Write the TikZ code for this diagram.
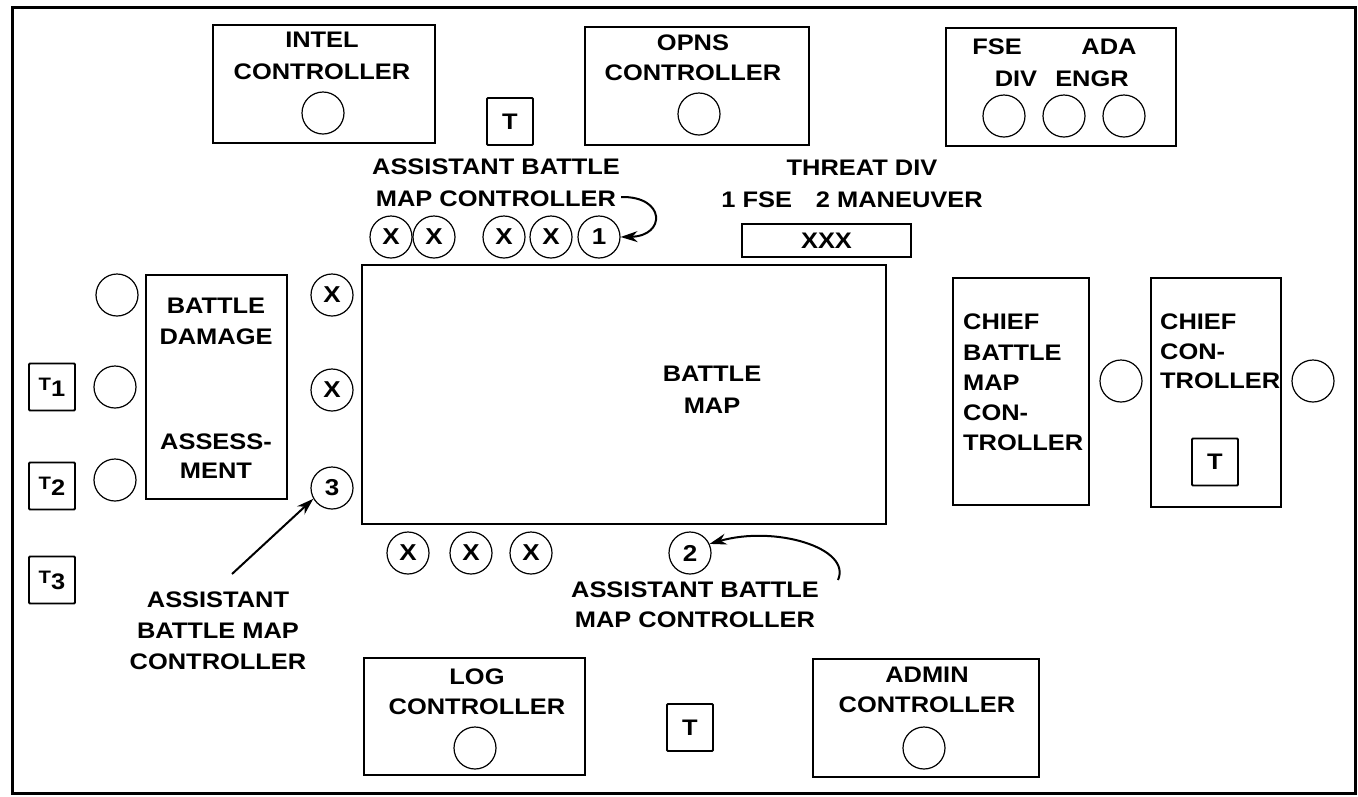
\documentclass[tikz,border=0pt]{standalone}
\usepackage{fontspec}
\newfontfamily\labfam{Liberation Sans}[FakeStretch=1.13]
\usetikzlibrary{arrows.meta}
\newcommand\labfont{\labfam\bfseries\fontsize{22.5}{31}\selectfont}
\newcommand\labfontb[1]{\labfam\bfseries\fontsize{22.5}{#1}\selectfont}
\newcommand\seatfont{\labfam\bfseries\fontsize{23}{23}\selectfont}
\begin{document}
\begin{tikzpicture}[x=1pt,y=-1pt,
  box/.style={draw, line width=2.2pt, inner sep=0, outer sep=0},
  seat/.style={circle, draw, line width=1.2pt, minimum size=42pt, inner sep=0, font=\seatfont},
  tbox/.style={draw, line width=1.8pt, minimum width=46pt, minimum height=47pt, inner sep=0, rounded corners=1pt, font=\labfont},
  lab/.style={font=\labfont, inner sep=0, align=center},
  arr/.style={line width=2pt, -{Stealth[length=17pt,width=11pt]}}]
\useasboundingbox (0,0) rectangle (1358,796);
% frame
\draw[line width=3pt] (12,7) rectangle (1355,793);
% boxes
\node[box, minimum width=222pt, minimum height=118pt] (intel) at (324,84) {};
\node[box, minimum width=224pt, minimum height=118pt] (opns) at (697,86) {};
\node[box, minimum width=230pt, minimum height=118pt] (fse) at (1061,87) {};
\node[box, minimum width=169pt, minimum height=33pt] (xxx) at (826.5,240.5) {};
\node[box, minimum width=524pt, minimum height=259pt] (map) at (624,394.5) {};
\node[box, minimum width=141pt, minimum height=224pt] (bda) at (216.5,387) {};
\node[box, minimum width=136pt, minimum height=227pt] (cbmc) at (1021,391.5) {};
\node[box, minimum width=130pt, minimum height=229pt] (cc) at (1216,392.5) {};
\node[box, minimum width=221pt, minimum height=117pt] (log) at (474.5,716.5) {};
\node[box, minimum width=226pt, minimum height=118pt] (admin) at (926,718) {};
% texts
\node[lab, font=\labfontb{32}] (intelT) at (322,56) {INTEL\\CONTROLLER};
\node[lab, font=\labfontb{30}] (opnsT) at (693,58) {OPNS\\CONTROLLER};
\node[lab] (fseT) at (997,47) {FSE};
\node[lab] (adaT) at (1109,47) {ADA};
\node[lab] (divT) at (1016,79) {DIV};
\node[lab] (engrT) at (1092,79) {ENGR};
\node[lab, font=\labfontb{32}] (abmc1) at (496,183) {ASSISTANT BATTLE\\MAP CONTROLLER};
\node[lab, font=\labfontb{32}] (threat) at (852,184) {\hspace*{20pt}THREAT DIV\\1 FSE\hspace{24pt}2 MANEUVER};
\node[lab] (xxxT) at (xxx) {XXX};
\node[lab, font=\labfontb{32}] (mapT) at (712,390) {BATTLE\\MAP};
\node[lab, font=\labfontb{31}] (bdaT1) at (216,321.5) {BATTLE\\DAMAGE};
\node[lab, font=\labfontb{29}] (bdaT2) at (216,456) {ASSESS-\\MENT};
\node[lab, font=\labfontb{31}] (abmc3) at (218,631) {ASSISTANT\\BATTLE MAP\\CONTROLLER};
\node[lab, font=\labfontb{30}] (abmc2) at (695,605) {ASSISTANT BATTLE\\MAP CONTROLLER};
\node[lab, align=left, anchor=west, font=\labfontb{30.25}] (cbmcT) at (963,382.5) {CHIEF\\BATTLE\\MAP\\CON-\\TROLLER};
\node[lab, align=left, anchor=west, font=\labfontb{29.5}] (ccT) at (1160,351.5) {CHIEF\\CON-\\TROLLER};
\node[lab, font=\labfontb{30}] (logT) at (477,692) {LOG\\CONTROLLER};
\node[lab, font=\labfontb{30}] (adminT) at (927,690) {ADMIN\\CONTROLLER};
% T boxes
\node[tbox] (tTop) at (510,121.5) {T};
\node[tbox] (tChief) at (1215,462) {T};
\node[tbox] (tBot) at (690,727.5) {T};
\node[tbox] (t1) at (52,387) {{\fontsize{18}{18}\selectfont T}\raisebox{-6pt}{1}};
\node[tbox] (t2) at (52,486) {{\fontsize{18}{18}\selectfont T}\raisebox{-6pt}{2}};
\node[tbox] (t3) at (52,580) {{\fontsize{18}{18}\selectfont T}\raisebox{-6pt}{3}};
% plain seats
\node[seat] (sIntel) at (323,113) {};
\node[seat] (sOpns) at (699,114) {};
\node[seat] (sF1) at (1004,116) {};
\node[seat] (sF2) at (1064,116) {};
\node[seat] (sF3) at (1124,116) {};
\node[seat] (sL1) at (117,295) {};
\node[seat] (sL2) at (115,387) {};
\node[seat] (sL3) at (115,480) {};
\node[seat] (sR1) at (1121,381) {};
\node[seat] (sR2) at (1313,381) {};
\node[seat] (sLog) at (475,748) {};
\node[seat] (sAdmin) at (924,748) {};
% marked seats
\node[seat] (x1) at (391,237) {X};
\node[seat] (x2) at (434,237) {X};
\node[seat] (x3) at (504,237) {X};
\node[seat] (x4) at (551,237) {X};
\node[seat] (c1) at (599,237) {1};
\node[seat] (x5) at (332,295) {X};
\node[seat] (x6) at (332,390) {X};
\node[seat] (c3) at (332,488) {3};
\node[seat] (x7) at (408,553) {X};
\node[seat] (x8) at (471,553) {X};
\node[seat] (x9) at (531,553) {X};
\node[seat] (c2) at (690,553) {2};
% arrows
\coordinate (a1s) at (621,197);
\coordinate (a2s) at (838,580);
\coordinate (a3s) at (232,574);
\draw[arr] (a1s) .. controls (666,196) and (666,236) .. (c1.east);
\draw[arr] (a2s) .. controls (852,548) and (775,525) .. (c2.25);
\draw[arr] (a3s) -- (c3.210);
\end{tikzpicture}
\end{document}
